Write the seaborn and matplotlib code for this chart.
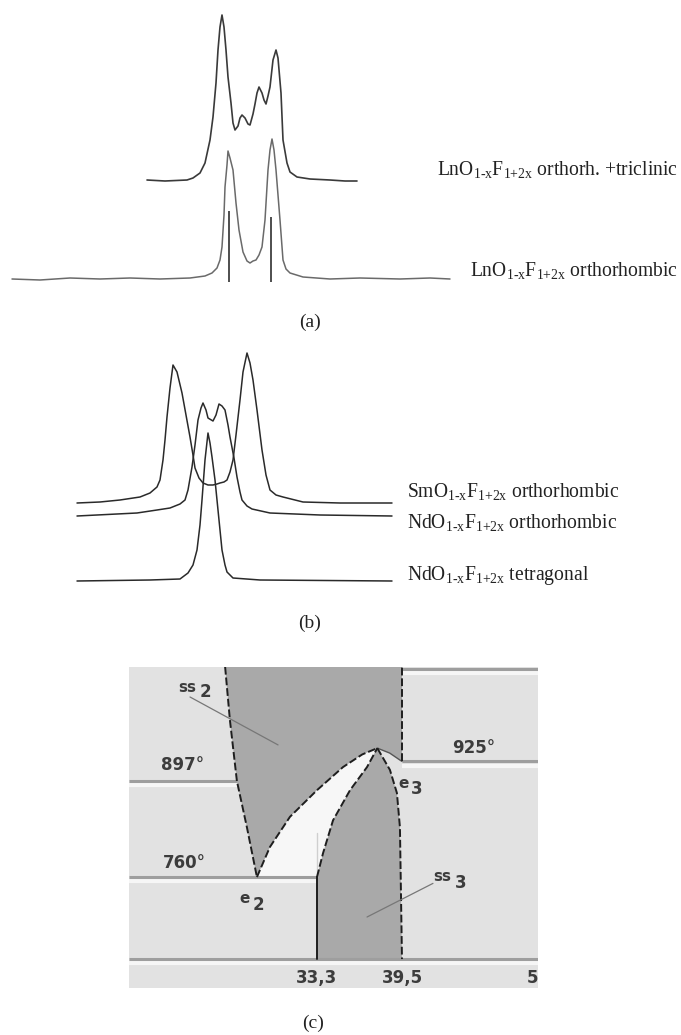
import numpy as np
import pandas as pd
import matplotlib
matplotlib.use("Agg")
import matplotlib.pyplot as plt
import seaborn as sns

# ---------------------------------------------------------------
# Data
# spectra: position (channel) and intensity above each baseline
# ---------------------------------------------------------------
a_top_pos = [147, 165, 187, 193, 200, 205, 210, 213, 216, 218, 220, 222, 224, 226, 228,
             231, 233, 235, 238, 240, 242, 245, 248, 250, 253, 255, 257, 259, 262, 264,
             266, 268, 270, 273, 276, 278, 281, 283, 287, 290, 297, 310, 330, 345, 357]
a_top_int = [0, -1, 0, 2, 7, 17, 40, 63, 97, 130, 153, 165, 153, 130, 103,
             77, 57, 50, 54, 62, 65, 62, 56, 55, 66, 76, 87, 93, 87, 80,
             76, 84, 93, 120, 130, 122, 87, 40, 17, 8, 3, 1, 0, -1, -1]

a_low_pos = [12, 40, 70, 100, 130, 160, 190, 205, 212, 217, 220, 222, 224, 225, 227,
             228, 230, 233, 236, 239, 243, 247, 250, 253, 256, 259, 262, 265, 268, 270,
             272, 274, 276, 280, 283, 286, 290, 303, 330, 360, 400, 430, 450]
a_low_int = [0, -1, 1, 0, 1, 0, 1, 3, 6, 11, 19, 32, 64, 92, 114,
             128, 121, 109, 76, 49, 27, 18, 16, 18, 19, 24, 32, 59, 109, 129,
             140, 129, 109, 59, 19, 10, 6, 2, 0, 1, 0, 1, 0]
a_stick_pos = [229, 271]
a_stick_int = [68, 62]

b_sm_pos = [77, 100, 120, 140, 150, 157, 160, 163, 165, 167, 170, 173, 177, 182, 186,
            190, 193, 195, 199, 203, 208, 213, 217, 220, 224, 227, 230, 233, 236, 240,
            243, 247, 250, 253, 257, 262, 266, 270, 276, 283, 303, 340, 392]
b_sm_int = [0, 1, 3, 6, 10, 16, 23, 43, 63, 86, 115, 138, 131, 110, 88,
            66, 48, 35, 25, 20, 18, 18, 19, 20, 21, 23, 31, 43, 68, 103,
            131, 150, 140, 123, 93, 53, 28, 13, 8, 6, 1, 0, 0]

b_ndo_pos = [77, 137, 157, 170, 180, 185, 188, 192, 195, 198, 201, 203, 206, 208, 213,
             216, 219, 222, 225, 228, 230, 234, 237, 240, 242, 247, 252, 270, 320, 392]
b_ndo_int = [0, 3, 6, 8, 12, 16, 26, 49, 71, 96, 108, 113, 106, 98, 95,
             101, 112, 110, 106, 91, 79, 58, 39, 24, 16, 10, 7, 3, 1, 0]

b_ndt_pos = [77, 150, 180, 188, 193, 197, 200, 202, 205, 208, 210, 212, 215, 217, 220,
             222, 225, 227, 233, 260, 392]
b_ndt_int = [0, 1, 2, 8, 16, 31, 56, 81, 121, 148, 138, 124, 101, 81, 51,
             31, 16, 9, 3, 1, 0]

SUB = r"O$_{1‐x}$F$_{1{+}2x}$"
labels_a = ["Ln" + SUB + " orthorh. +triclinic",
            "Ln" + SUB + " orthorhombic"]
labels_b = ["Sm" + SUB + " orthorhombic",
            "Nd" + SUB + " orthorhombic",
            "Nd" + SUB + " tetragonal"]

# phase diagram (composition %, temperature C)
ss2_left_x = [26.6, 26.95, 27.46, 28.19, 28.92]
ss2_left_t = [1060, 984, 897, 831, 760]
ss2_sol_x = [28.92, 29.87, 31.33, 33.3, 35.2, 36.6, 37.7]
ss2_sol_t = [760, 803, 846, 884, 917, 935, 944]
ss2_e3_x = [37.7, 38.6, 39.5]
ss2_e3_t = [944, 937, 925]
ss2_right_x = 39.5
ss3_left_x = [33.3, 33.3, 33.74, 34.47, 35.71, 36.95, 37.7]
ss3_left_t = [643, 760, 794, 841, 884, 917, 944]
ss3_right_x = [37.7, 38.62, 39.13, 39.35, 39.5]
ss3_right_t = [944, 913, 880, 831, 643]
t_bottom, t_top = 643, 1057
iso_t = {"e2": 760, "ss2": 897, "e3": 925}
comp_ticks = [33.3, 39.5, 49.05]
comp_ticklabels = ["33,3", "39,5", "5"]

# ---------------------------------------------------------------
sns.set_theme(style="white")
plt.rcParams["font.family"] = ["Liberation Serif", "DejaVu Serif"]
plt.rcParams["mathtext.fontset"] = "custom"
plt.rcParams["mathtext.rm"] = "Liberation Serif"
plt.rcParams["mathtext.it"] = "Liberation Serif"
plt.rcParams["mathtext.bf"] = "Liberation Serif:bold"

fig = plt.figure(figsize=(6.81, 10.35), dpi=100)
fig.patch.set_facecolor("white")

# spectra axes: whole figure, one unit per pixel
ax = fig.add_axes([0, 0, 1, 1])


def spectrum(pos, inten, base, color, lw=1.0):
    df = pd.DataFrame({"pos": pos, "y": base - np.asarray(inten)})
    sns.lineplot(data=df, x="pos", y="y", ax=ax, color=color, lw=lw,
                 sort=False, estimator=None)


spectrum(a_top_pos, a_top_int, 180, "#3a3a3a", 1.2)
spectrum(a_low_pos, a_low_int, 279, "#6a6a6a", 1.1)
ax.vlines(a_stick_pos, 282, 279 - np.asarray(a_stick_int), color="#404040", lw=1.3)

spectrum(b_sm_pos, b_sm_int, 503, "#2a2a2a", 1.1)
spectrum(b_ndo_pos, b_ndo_int, 516, "#2a2a2a", 1.1)
spectrum(b_ndt_pos, b_ndt_int, 581, "#2a2a2a", 1.1)
ax.set_xlim(0, 681)
ax.set_ylim(1035, 0)
ax.axis("off")

txt = dict(fontsize=14.1, color="#222222", va="baseline", ha="left")
ax.text(437, 175, labels_a[0], **txt)
ax.text(470, 276, labels_a[1], **txt)
for lab, yb in zip(labels_b, [497, 528, 580]):
    ax.text(407, yb, lab, **txt)

for lab, (cx, cy) in zip(["(a)", "(b)", "(c)"], [(310, 322), (310, 623), (313, 1023)]):
    ax.text(cx, cy, lab, fontsize=14, color="#222222", ha="center", va="center")

# ---------------------------------------------------------------
# (c) phase diagram
axc = fig.add_axes([129 / 681, 47 / 1035, 409 / 681, 321 / 1035])
xmin, xmax = 19.59, 49.42
axc.set_xlim(xmin, xmax)
axc.set_ylim(601.7, 1059.8)
axc.set_facecolor("#e2e2e2")
for s in axc.spines.values():
    s.set_visible(False)
axc.set_xticks([])
axc.set_yticks([])

line_c, hi_c = "#9e9e9e", "#f6f6f6"
isos = [(iso_t["ss2"], xmin, ss2_left_x[2]),
        (iso_t["e2"], xmin, ss3_left_x[1]),
        (iso_t["e3"], ss2_right_x, xmax),
        (t_bottom, xmin, xmax),
        (t_top, ss2_right_x, xmax)]
for t, x0, x1 in isos:
    axc.plot([x0, x1], [t - 6, t - 6], color=hi_c, lw=3, solid_capstyle="butt")
    axc.plot([x0, x1], [t, t], color=line_c, lw=2.2, solid_capstyle="butt")

# lens between the two solid solutions
lens_x = ss2_sol_x + ss3_left_x[::-1][:-1]
lens_t = ss2_sol_t + ss3_left_t[::-1][:-1]
axc.fill(lens_x, lens_t, color="#f7f7f7", lw=0)
axc.plot([33.3, 33.3], [760, 823], color="#cfcfcf", lw=1)

fill_c = "#a9a9a9"
ss2_x = ss2_left_x + ss2_sol_x + ss2_e3_x + [ss2_right_x]
ss2_t = ss2_left_t + ss2_sol_t + ss2_e3_t + [1060]
axc.fill(ss2_x, ss2_t, color=fill_c, lw=0)
ss3_x = ss3_left_x + ss3_right_x
ss3_t = ss3_left_t + ss3_right_t
axc.fill(ss3_x, ss3_t, color=fill_c, lw=0)

bnd = dict(color="#1e1e1e", lw=1.4, ls=(0, (4, 1.5)))
axc.plot(ss2_left_x, ss2_left_t, **bnd)
axc.plot(ss2_sol_x, ss2_sol_t, **bnd)
axc.plot(ss2_e3_x, ss2_e3_t, color="#555555", lw=1.0)
axc.plot([ss2_right_x, ss2_right_x], [iso_t["e3"], 1060], **bnd)
axc.plot(ss3_left_x[1:], ss3_left_t[1:], **bnd)
axc.plot(ss3_left_x[:2], ss3_left_t[:2], color="#1e1e1e", lw=1.4)
axc.plot(ss3_right_x, ss3_right_t, **bnd)

# leader lines
axc.plot([24.04, 30.46], [1017, 948.6], color="#777777", lw=0.9)
axc.plot([41.76, 36.95], [751, 703], color="#777777", lw=0.9)

ct = dict(family="DejaVu Sans", fontweight="bold", color="#3c3c3c",
          ha="center", va="center")
axc.text(23.5, 920, "897°", fontsize=12, **ct)
axc.text(23.6, 780, "760°", fontsize=12, **ct)
axc.text(44.75, 944, "925°", fontsize=12, **ct)
axc.text(23.82, 1031, "ss", fontsize=11, **ct)
axc.text(25.15, 1024, "2", fontsize=12, **ct)
axc.text(42.45, 761, "ss", fontsize=11, **ct)
axc.text(43.8, 751, "3", fontsize=12, **ct)
axc.text(28.05, 730, "e", fontsize=11, **ct)
axc.text(29.0, 720, "2", fontsize=12, **ct)
axc.text(39.6, 893, "e", fontsize=11, **ct)
axc.text(40.55, 886, "3", fontsize=12, **ct)
for xv, lab in zip(comp_ticks, comp_ticklabels):
    axc.text(xv, 616, lab, fontsize=12, **ct)

fig.savefig("out.png", dpi=100, facecolor="white")
